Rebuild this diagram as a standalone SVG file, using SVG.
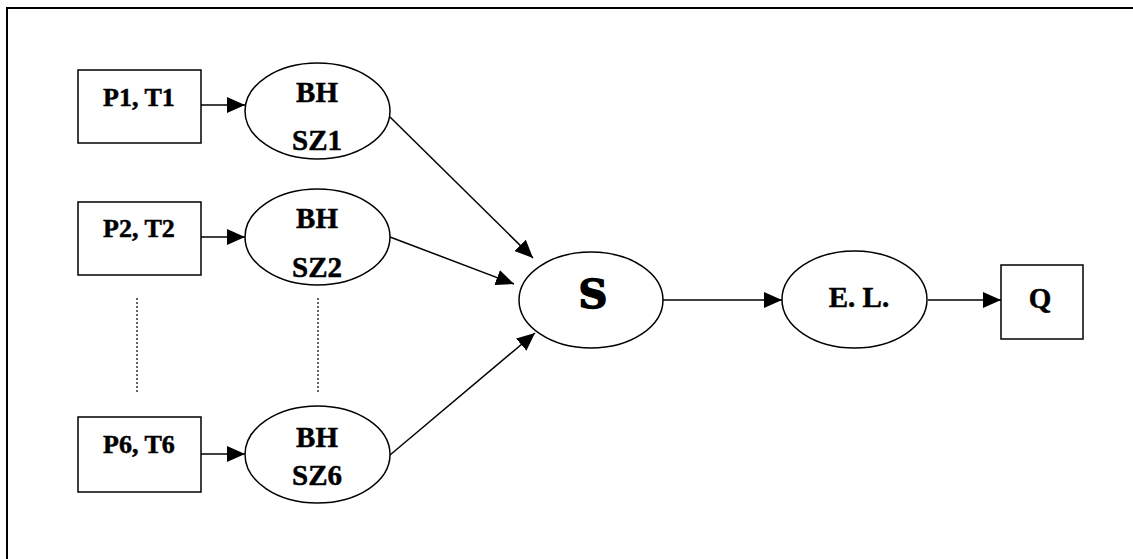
<svg xmlns="http://www.w3.org/2000/svg" width="1133" height="559" viewBox="0 0 1133 559">
  <defs>
    <marker id="arrow" markerUnits="userSpaceOnUse" markerWidth="18" markerHeight="16" refX="18" refY="8" orient="auto">
      <path d="M0,0 L18,8 L0,16 z" fill="#000"/>
    </marker>
    <style>
      .frame { fill: none; stroke: #000; stroke-width: 2; }
      .shape { fill: #fff; stroke: #000; stroke-width: 1.5; }
      .edge { fill: none; stroke: #000; stroke-width: 1.5; marker-end: url(#arrow); }
      .dots { fill: none; stroke: #000; stroke-width: 1.2; stroke-dasharray: 2 2; }
      .lbl { font-family: "Liberation Serif", "Times New Roman", serif; font-weight: bold; fill: #000; stroke: #000; stroke-width: 0.5; text-anchor: middle; }
      .in { font-size: 26px; }
      .bh { font-size: 29px; }
      .big { font-family: "DejaVu Serif", serif; font-weight: bold; font-size: 40px; fill: #000; stroke: #000; stroke-width: 1.5; text-anchor: middle; }
    </style>
  </defs>

  <rect width="1133" height="559" fill="#fff"/>

  <!-- outer frame: top and left edges -->
  <path class="frame" d="M7,559 V8 H1133"/>

  <!-- connectors -->
  <g id="connectors">
    <line class="edge" x1="199" y1="105" x2="245" y2="105"/>
    <line class="edge" x1="199" y1="237" x2="245" y2="237"/>
    <line class="edge" x1="199" y1="454" x2="245" y2="454"/>
    <line class="edge" x1="390" y1="117" x2="533" y2="258"/>
    <line class="edge" x1="390" y1="237" x2="514" y2="284"/>
    <line class="edge" x1="390" y1="455" x2="535" y2="333"/>
    <line class="edge" x1="663" y1="300" x2="782" y2="300"/>
    <line class="edge" x1="928" y1="300" x2="1001" y2="300"/>
    <line class="dots" x1="137" y1="298" x2="137" y2="392"/>
    <line class="dots" x1="318" y1="298" x2="318" y2="392"/>
  </g>

  <g id="p1t1">
    <rect class="shape" x="78" y="70" width="123" height="73"/>
    <text class="lbl in" x="139" y="106">P1, T1</text>
  </g>
  <g id="p2t2">
    <rect class="shape" x="78" y="202" width="123" height="73"/>
    <text class="lbl in" x="139" y="237">P2, T2</text>
  </g>
  <g id="p6t6">
    <rect class="shape" x="78" y="417" width="123" height="75"/>
    <text class="lbl in" x="139" y="453">P6, T6</text>
  </g>

  <g id="bhsz1">
    <ellipse class="shape" cx="317.5" cy="111" rx="72.5" ry="48"/>
    <text class="lbl bh" x="317" y="102">BH</text>
    <text class="lbl bh" x="317" y="150">SZ1</text>
  </g>
  <g id="bhsz2">
    <ellipse class="shape" cx="317.5" cy="237" rx="72.5" ry="48"/>
    <text class="lbl bh" x="317" y="228">BH</text>
    <text class="lbl bh" x="317" y="277">SZ2</text>
  </g>
  <g id="bhsz6">
    <ellipse class="shape" cx="317.5" cy="454.5" rx="72.5" ry="48.5"/>
    <text class="lbl bh" x="317" y="447">BH</text>
    <text class="lbl bh" x="317" y="485">SZ6</text>
  </g>

  <g id="s">
    <ellipse class="shape" cx="591" cy="300" rx="72" ry="48"/>
    <text class="big" x="593" y="308">S</text>
  </g>

  <g id="el">
    <ellipse class="shape" cx="854.5" cy="299.5" rx="72.5" ry="48.5"/>
    <text class="lbl bh" x="859" y="307">E. L.</text>
  </g>

  <g id="q">
    <rect class="shape" x="1001" y="265" width="82" height="74"/>
    <text class="lbl bh" x="1040" y="308">Q</text>
  </g>
</svg>
